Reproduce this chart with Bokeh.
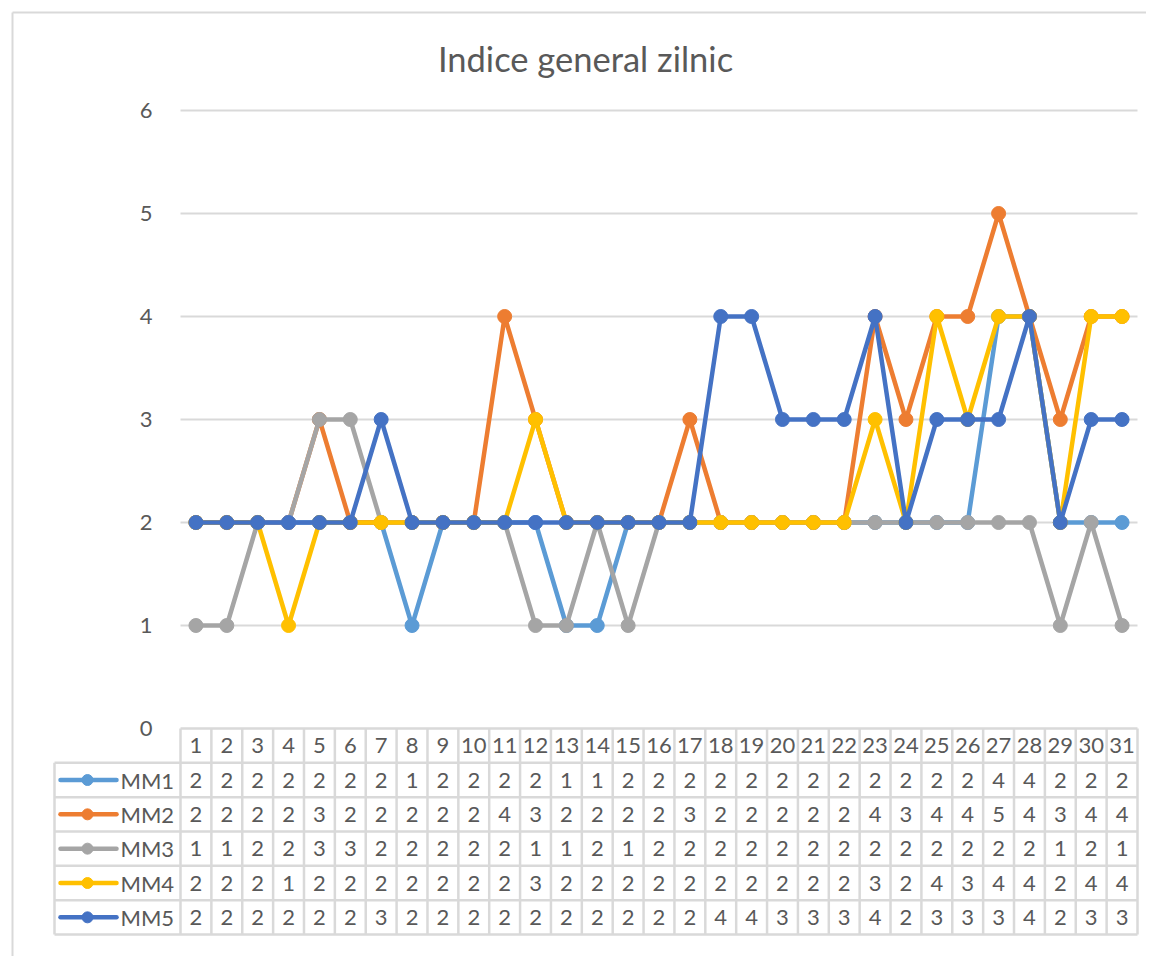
from bokeh.plotting import figure
from bokeh.models import Range1d, FixedTicker
from bokeh.core.properties import value
from bokeh.embed import file_html
from bokeh.resources import INLINE

# ---------------- data ----------------
days = list(range(1, 32))
series_names = ["MM1", "MM2", "MM3", "MM4", "MM5"]
mm1 = [2, 2, 2, 2, 2, 2, 2, 1, 2, 2, 2, 2, 1, 1, 2, 2, 2, 2, 2, 2, 2, 2, 2, 2, 2, 2, 4, 4, 2, 2, 2]
mm2 = [2, 2, 2, 2, 3, 2, 2, 2, 2, 2, 4, 3, 2, 2, 2, 2, 3, 2, 2, 2, 2, 2, 4, 3, 4, 4, 5, 4, 3, 4, 4]
mm3 = [1, 1, 2, 2, 3, 3, 2, 2, 2, 2, 2, 1, 1, 2, 1, 2, 2, 2, 2, 2, 2, 2, 2, 2, 2, 2, 2, 2, 1, 2, 1]
mm4 = [2, 2, 2, 1, 2, 2, 2, 2, 2, 2, 2, 3, 2, 2, 2, 2, 2, 2, 2, 2, 2, 2, 3, 2, 4, 3, 4, 4, 2, 4, 4]
mm5 = [2, 2, 2, 2, 2, 2, 3, 2, 2, 2, 2, 2, 2, 2, 2, 2, 2, 4, 4, 3, 3, 3, 4, 2, 3, 3, 3, 4, 2, 3, 3]
series_values = [mm1, mm2, mm3, mm4, mm5]
colors = ["#5B9BD5", "#ED7D31", "#A5A5A5", "#FFC000", "#4472C4"]
y_ticks = [0, 1, 2, 3, 4, 5, 6]
title_text = "Indice general zilnic"

# ---------------- geometry (page pixels -> data units) ----------------
FONT = "Lato"
TXT = "#595959"
GRID = "#d9d9d9"
OFF = 0                     # page offset of the figure
W, H = 1146, 956
n = len(days)
PLOT_L, PLOT_R = 180, 1137  # plot-area edges on the page
Y0_PAGE = 728               # page y of value 0
U = 103.0                   # pixels per value unit
cw = (PLOT_R - PLOT_L) / n  # pixels per category


def px2x(px):
    return 0.5 + (px - PLOT_L) / cw


def py2y(py):
    return (Y0_PAGE - py) / U


p = figure(width=W, height=H, output_backend="svg", toolbar_location=None,
           x_range=Range1d(px2x(OFF), px2x(OFF + W)),
           y_range=Range1d(py2y(OFF + H), py2y(OFF)),
           min_border=0, x_axis_location=None)
p.outline_line_color = None
p.grid.visible = False

# y axis drawn at the left edge of the plot area
ax = p.yaxis[0]
ax.fixed_location = 0.5
ax.bounds = (min(y_ticks), max(y_ticks))
ax.ticker = FixedTicker(ticks=y_ticks)
ax.axis_line_color = None
ax.major_tick_line_color = None
ax.minor_tick_line_color = None
ax.major_label_standoff = 22
ax.major_label_text_font = FONT
ax.major_label_text_font_size = "22px"
ax.major_label_text_color = TXT

# outer chart border
bx, by = px2x(12), py2y(12)
p.segment(x0=[bx, bx], y0=[by, by], x1=[bx, px2x(OFF + W)], y1=[py2y(OFF + H), by],
          line_color=GRID, line_width=2)

# horizontal gridlines
gl = [t for t in y_ticks if t > 0]
p.segment(x0=[0.5] * len(gl), y0=gl, x1=[n + 0.5] * len(gl), y1=gl,
          line_color=GRID, line_width=2)

# title
p.text(x=[px2x(585)], y=[py2y(58)], text=[title_text], text_font=value(FONT),
       text_font_size="34.5px", text_color=TXT, text_align="center",
       text_baseline="middle")

# series
for vals, c in zip(series_values, colors):
    p.line(days, vals, line_color=c, line_width=4.5, line_join="round")
    p.scatter(days, vals, size=14, fill_color=c, line_color=c)

# ---------------- data table ----------------
rh = 1.0 / 3.0
nrows = len(series_names)
leg_left = px2x(54)
tb = -(nrows + 1) * rh
TW = 2.5

vx = [k + 0.5 for k in range(n + 1)]
p.segment(x0=vx, y0=[0] * len(vx), x1=vx, y1=[tb] * len(vx),
          line_color=GRID, line_width=TW)
p.segment(x0=[leg_left], y0=[-rh], x1=[leg_left], y1=[tb],
          line_color=GRID, line_width=TW)
p.segment(x0=[0.5], y0=[0], x1=[n + 0.5], y1=[0], line_color=GRID, line_width=TW)
hy = [-(r + 1) * rh for r in range(nrows + 1)]
p.segment(x0=[leg_left] * len(hy), y0=hy, x1=[n + 0.5] * len(hy), y1=hy,
          line_color=GRID, line_width=TW)

p.text(x=days, y=[-0.5 * rh] * n, text=[str(d) for d in days],
       text_font=value(FONT), text_font_size="22px", text_color=TXT,
       text_align="center", text_baseline="middle")

key_x0, key_x1, key_xc, lab_x = px2x(60), px2x(116), px2x(87), px2x(120)
for r, (name, vals, c) in enumerate(zip(series_names, series_values, colors)):
    yc = -(r + 1.5) * rh
    p.text(x=days, y=[yc] * n, text=[str(v) for v in vals],
           text_font=value(FONT), text_font_size="22px", text_color=TXT,
           text_align="center", text_baseline="middle")
    p.segment(x0=[key_x0], y0=[yc], x1=[key_x1], y1=[yc], line_color=c,
              line_width=4.5, line_cap="round")
    p.scatter(x=[key_xc], y=[yc], size=11, fill_color=c, line_color=c)
    p.text(x=[lab_x], y=[yc], text=[name], text_font=value(FONT),
           text_font_size="22px", text_color=TXT, text_align="left",
           text_baseline="middle")

open("out.html", "w").write(file_html(p, INLINE))
